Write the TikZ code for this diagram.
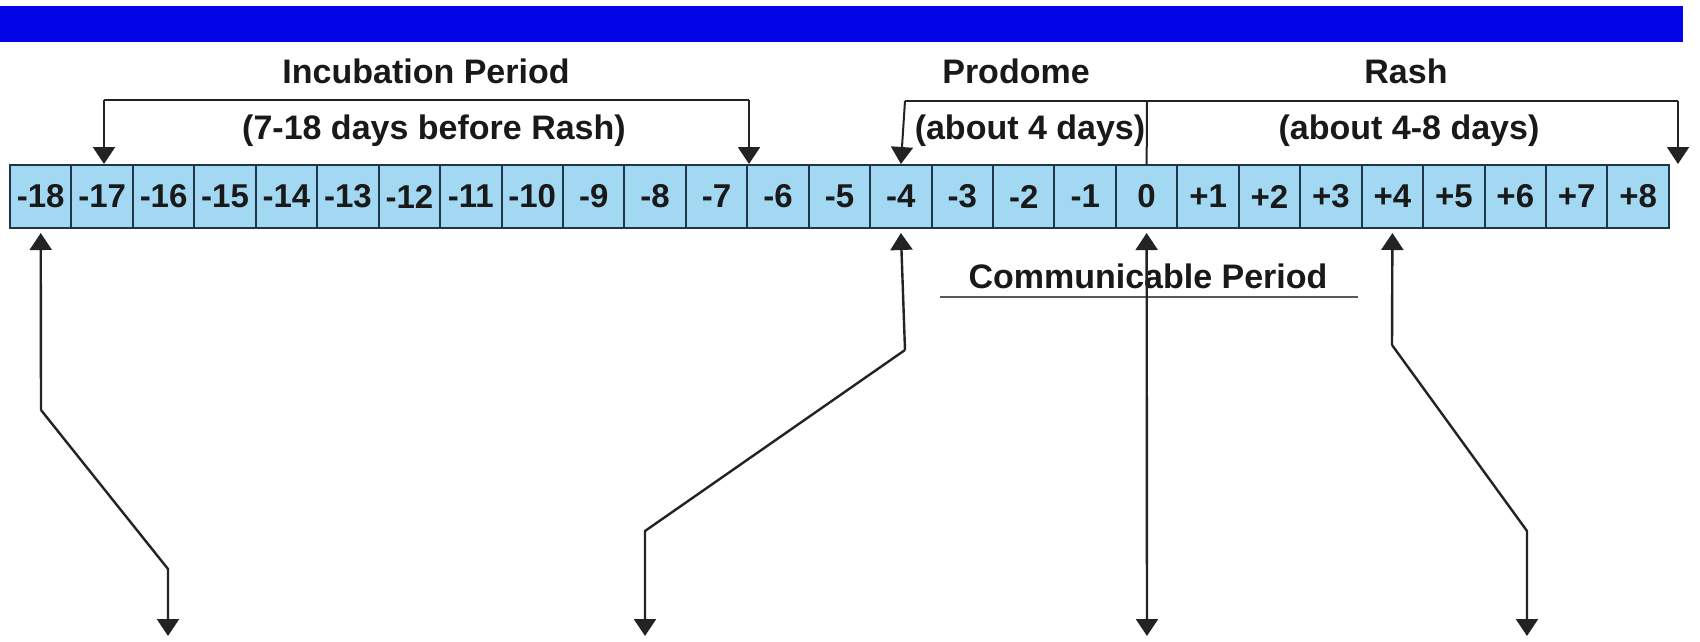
\documentclass[tikz,border=0pt]{standalone}
\usepackage{fontspec}
\setmainfont{Liberation Sans}
\usetikzlibrary{arrows.meta}
\definecolor{barblue}{RGB}{4,4,232}
\definecolor{cellfill}{RGB}{162,216,242}
\definecolor{cellline}{RGB}{30,55,70}
\definecolor{ink}{RGB}{25,25,25}
\definecolor{lineink}{RGB}{35,35,35}
\tikzset{
  daycell/.style={draw=cellline, line width=2pt, fill=cellfill, minimum width=61.44pt, minimum height=63pt, inner sep=0pt, text=ink, font=\fontsize{33}{36}\selectfont\bfseries},
  headtxt/.style={text=ink, inner sep=0pt, font=\fontsize{34}{38}\selectfont\bfseries},
  brk/.style={draw=lineink, line width=2pt},
  tip/.style={-{Triangle[width=22pt,length=17pt]}},
  dtip/.style={{Triangle[width=22pt,length=17pt]}-{Triangle[width=22pt,length=17pt]}},
  conn/.style={draw=lineink, line width=2.4pt}
}
\begin{document}
\begin{tikzpicture}[x=1pt,y=-1pt]
\useasboundingbox (0,0) rectangle (1700,641);
\fill[white] (0,0) rectangle (1700,641);
% blue bar
\fill[barblue] (0,6) rectangle (1683,42);
% cells
\foreach \lab [count=\i] in {-18,-17,-16,-15,-14,-13,-12,-11,-10,-9,-8,-7,-6,-5,-4,-3,-2,-1,0,+1,+2,+3,+4,+5,+6,+7,+8}{
  \node[daycell] (c\i) at ({10+(\i-0.5)*61.44},196.5) {\lab};
}
% headings
\node[headtxt] (hinc) at (426,71) {Incubation Period};
\node[headtxt] (hincd) at (434,131) {(7-18 days before Rash)};
\node[headtxt] (hpro) at (1016,71) {Prodome};
\node[headtxt] (hprod) at (1030,131) {(about 4 days)};
\node[headtxt] (hrash) at (1406,71) {Rash};
\node[headtxt] (hrashd) at (1409,131) {(about 4-8 days)};
\node[headtxt] (comm) at (1148,276) {Communicable Period};
\draw[draw=gray!70!black, line width=1.6pt] (940,297) -- (1358,297);
% brackets
\coordinate (ia) at (104,100);
\coordinate (ib) at (749,100);
\draw[brk,tip] (ia) -- (c2.north -| ia);
\draw[brk] (ia) -- (ib);
\draw[brk,tip] (ib) -- (ib |- c12.north);
\coordinate (pa) at (905,101);
\coordinate (pb) at (1147,101);
\coordinate (ra) at (1678,101);
\draw[brk,tip] (pa) -- (c15.north);
\draw[brk] (pa) -- (ra);
\draw[brk] (pb) -- (c19.north);
\draw[brk,tip] (ra) -- (ra |- c27.north);
% connectors from below
\coordinate (a1) at (41,410);
\coordinate (a2) at (168,569);
\coordinate (a3) at (168,636);
\draw[conn,tip] (a1) -- ([yshift=-4pt]c1.south);
\draw[conn,tip] (a1) -- (a2) -- (a3);
\coordinate (b1) at (905,350);
\coordinate (b2) at (645,531);
\coordinate (b3) at (645,636);
\draw[conn,tip] (b1) -- ([yshift=-4pt]c15.south);
\draw[conn,tip] (b1) -- (b2) -- (b3);
\coordinate (z3) at (1147,636);
\draw[conn,dtip] ([yshift=-4pt]c19.south) -- (z3);
\coordinate (d1) at (1392,345);
\coordinate (d2) at (1527,531);
\coordinate (d3) at (1527,636);
\draw[conn,tip] (d1) -- ([yshift=-4pt]c23.south);
\draw[conn,tip] (d1) -- (d2) -- (d3);
\end{tikzpicture}
\end{document}
